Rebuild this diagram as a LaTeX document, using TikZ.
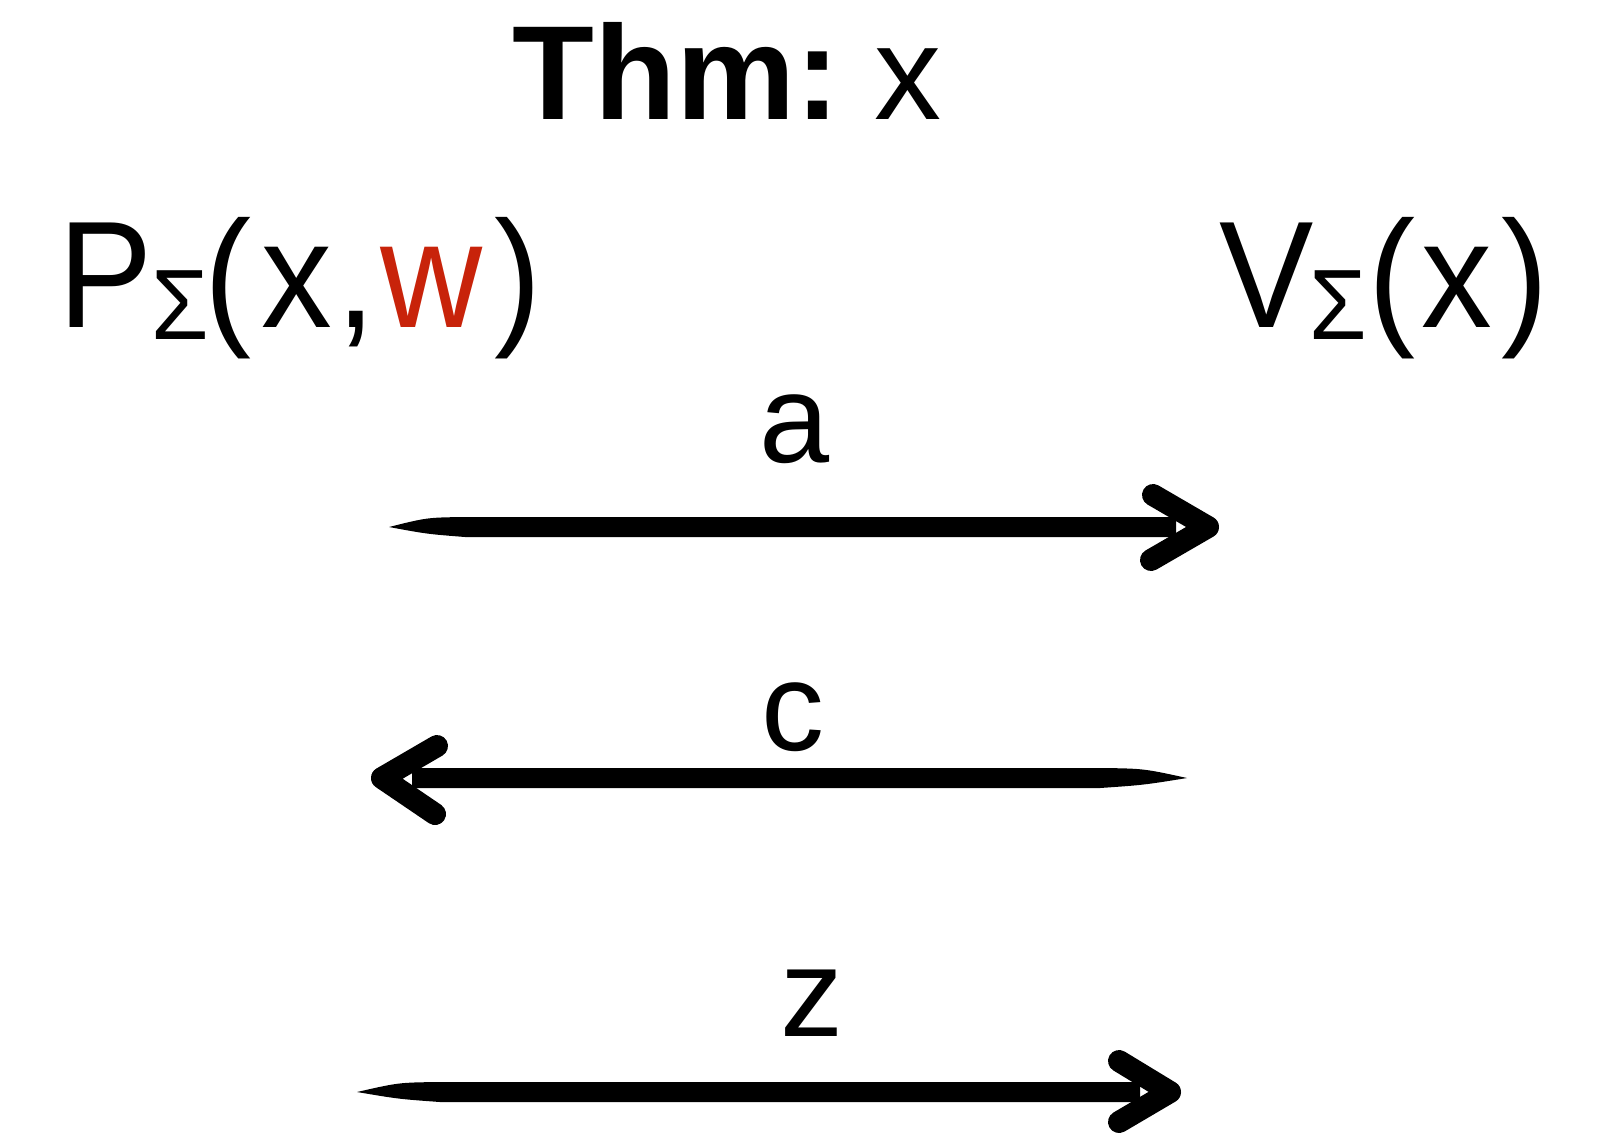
\documentclass[tikz,border=0pt]{standalone}
\usepackage{fontspec}
\setmainfont{Liberation Sans}
\usetikzlibrary{calc}
\definecolor{wred}{RGB}{200,35,10}
\tikzset{
  brush/.style={line width=11pt, line cap=round, line join=round},
  bigtext/.style={anchor=base west, inner sep=0pt, font=\fontsize{76}{80}\selectfont},
  lbl/.style={anchor=base, inner sep=0pt, font=\fontsize{63}{66}\selectfont},
}
\newcommand{\sigsub}{\raisebox{-6.3pt}{\fontsize{50}{50}\selectfont Σ}}
\begin{document}
\begin{tikzpicture}[x=0.5pt,y=-0.5pt]
\useasboundingbox (0,0) rectangle (1604,1136);
% texts
\node[anchor=base west, inner sep=0pt, font=\fontsize{67}{70}\selectfont] (title) at (512,119) {\textbf{Thm:}\hspace{17.5pt}x};
\node[bigtext] (prover) at (58,327) {\scalebox{0.93}[1]{P\kern-0.9pt\sigsub\kern-1.9pt(\kern5pt x\kern2.2pt,\kern2.75pt\textcolor{wred}{w}\kern6.3pt)}};
\node[bigtext] (verifier) at (1219,327) {\scalebox{0.93}[1]{V\kern-2pt\sigsub\kern0.3pt(\kern3.7pt x\kern4.6pt)}};
\node[lbl] (la) at (795,462) {a};
\node[lbl] (lc) at (793,750) {c};
\node[lbl] (lz) at (812,1036) {z};
% arrow 1 (left to right)
\coordinate (a1s) at (389,527);
\coordinate (a1m) at (465,527);
\coordinate (a1e) at (1176,527);
\coordinate (a1t) at (1208,527);
\fill (a1s) .. controls ($(a1s)!0.5!(a1m)+(0,-9.5)$) .. ($(a1m)+(0,-10)$) -- ($(a1e)+(0,-10)$) -- ($(a1e)+(0,10)$) -- ($(a1m)+(0,10)$) .. controls ($(a1s)!0.5!(a1m)+(0,7)$) .. (a1s) -- cycle;
\draw[brush] ($(a1t)+(-55,-32)$) -- (a1t) -- ($(a1t)+(-57,33)$);
% arrow 2 (right to left)
\coordinate (a2s) at (1187,778);
\coordinate (a2m) at (1100,778);
\coordinate (a2e) at (412,778);
\coordinate (a2t) at (382,778);
\fill (a2s) .. controls ($(a2s)!0.5!(a2m)+(0,-9.5)$) .. ($(a2m)+(0,-10)$) -- ($(a2e)+(0,-10)$) -- ($(a2e)+(0,10)$) -- ($(a2m)+(0,10)$) .. controls ($(a2s)!0.5!(a2m)+(0,7)$) .. (a2s) -- cycle;
\draw[brush] ($(a2t)+(55,-32)$) -- (a2t) -- ($(a2t)+(53,36)$);
% arrow 3 (left to right)
\coordinate (a3s) at (357,1092);
\coordinate (a3m) at (440,1092);
\coordinate (a3e) at (1140,1092);
\coordinate (a3t) at (1170,1092);
\fill (a3s) .. controls ($(a3s)!0.5!(a3m)+(0,-9.5)$) .. ($(a3m)+(0,-10)$) -- ($(a3e)+(0,-10)$) -- ($(a3e)+(0,10)$) -- ($(a3m)+(0,10)$) .. controls ($(a3s)!0.5!(a3m)+(0,7)$) .. (a3s) -- cycle;
\draw[brush] ($(a3t)+(-51,-31)$) -- (a3t) -- ($(a3t)+(-51,30)$);
\end{tikzpicture}
\end{document}
